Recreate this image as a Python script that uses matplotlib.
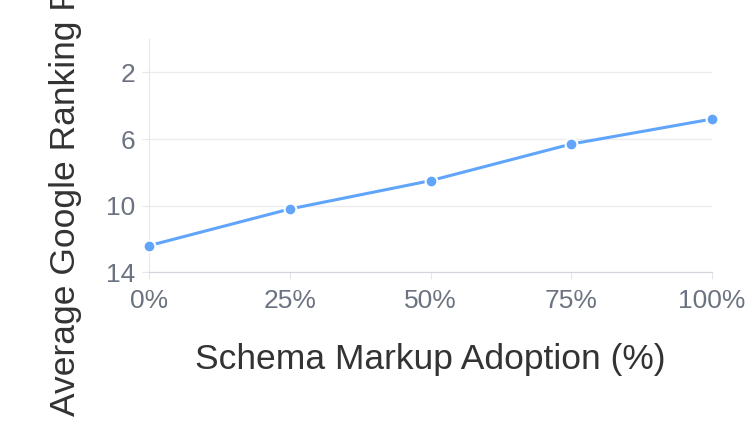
import matplotlib
matplotlib.use("Agg")
import matplotlib.pyplot as plt

# Data
adoption_labels = ["0%", "25%", "50%", "75%", "100%"]
adoption = [0, 25, 50, 75, 100]
avg_rank = [12.4, 10.2, 8.5, 6.3, 4.8]
y_ticks = [2, 6, 10, 14]

plt.rcParams["font.family"] = ["Liberation Sans", "DejaVu Sans"]

fig = plt.figure(figsize=(7.5, 4.25), dpi=100)
ax = fig.add_axes([0.1987, 0.3593, 0.7506, 0.5487])

ax.plot(adoption, avg_rank, color="#60a5fa", linewidth=2.2,
        marker="o", markersize=8.5, markerfacecolor="#60a5fa",
        markeredgecolor="white", markeredgewidth=1.5, zorder=3,
        solid_capstyle="round", clip_on=False)

ax.set_xlim(0, 100)
ax.set_ylim(14, 0)
ax.set_yticks(y_ticks)
ax.set_xticks(adoption)
ax.set_xticklabels(adoption_labels)

ax.grid(axis="y", color="#ececec", linewidth=1)
ax.set_axisbelow(True)

for side in ["top", "right"]:
    ax.spines[side].set_visible(False)
ax.spines["left"].set_color("#e5e7eb")
ax.spines["bottom"].set_color("#d1d5db")

ax.tick_params(axis="both", colors="#e5e7eb", labelcolor="#6b7280",
               labelsize=19, length=5)
ax.tick_params(axis="x", pad=7)
ax.tick_params(axis="y", pad=5)

ax.set_xlabel("Schema Markup Adoption (%)", fontsize=25.5, color="#333333",
              va="top")
ax.xaxis.set_label_coords(0.5, -0.302)

# y label is long and runs off the top edge, as in the reference
fig.text(0.087, 0.022, "Average Google Ranking Position", rotation=90,
         ha="center", va="bottom", fontsize=25.5, color="#333333")

fig.savefig("out.png", dpi=100, facecolor="white")
